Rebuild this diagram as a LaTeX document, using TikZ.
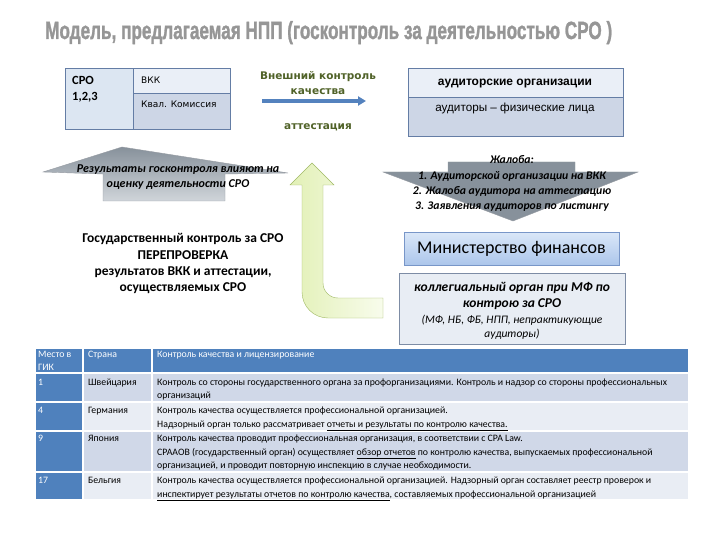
\documentclass[tikz,border=0pt]{standalone}
\usepackage{fontspec}
\setmainfont{Carlito}
\newfontfamily\lib{Liberation Sans}
\newfontfamily\titlefont{Liberation Sans Bold}[FakeBold=1.5]
\newfontfamily\dvs{DejaVu Sans}
\usetikzlibrary{arrows.meta}
\definecolor{titlegray}{RGB}{150,150,150}
\definecolor{bxborder}{RGB}{100,125,165}
\definecolor{bxa}{RGB}{220,230,242}
\definecolor{bxb}{RGB}{234,239,247}
\definecolor{bxc}{RGB}{205,214,230}
\definecolor{olivetxt}{RGB}{80,98,40}
\definecolor{arrblue}{RGB}{84,130,190}
\definecolor{calgray}{RGB}{135,145,155}
\definecolor{calcream}{RGB}{246,244,234}
\definecolor{callight}{RGB}{208,213,218}
\definecolor{calborder}{RGB}{150,155,162}
\definecolor{grnfill}{RGB}{226,240,182}
\definecolor{grnlight}{RGB}{248,252,236}
\definecolor{grnborder}{RGB}{160,185,100}
\definecolor{mftop}{RGB}{218,231,248}
\definecolor{mfbot}{RGB}{172,198,235}
\definecolor{mfborder}{RGB}{120,150,200}
\definecolor{kolfill}{RGB}{232,237,244}
\definecolor{kolborder}{RGB}{125,140,165}
\definecolor{thead}{RGB}{79,129,189}
\definecolor{trowa}{RGB}{208,216,232}
\definecolor{trowb}{RGB}{233,237,244}
\tikzset{
  txt/.style={anchor=base, inner sep=0pt},
  ltxt/.style={anchor=base west, inner sep=0pt},
  tabfont/.style={font=\fontsize{9.8}{11}\selectfont},
  tl/.style={ltxt, tabfont},
  th/.style={ltxt, tabfont, text=white},
  cellline/.style={draw=white, line width=1.2pt},
  olive/.style={txt, text=olivetxt, font=\dvs\bfseries\fontsize{10.5}{12}\selectfont},
  calltxt/.style={txt, font=\bfseries\itshape\fontsize{12}{14}\selectfont},
}
\begin{document}
\begin{tikzpicture}[x=1pt,y=-1pt]
\useasboundingbox (0,0) rectangle (720,540);
\fill[white] (0,0) rectangle (720,540);

% title
\node[ltxt, text=titlegray] (title) at (45,39)
  {\resizebox{567pt}{18pt}{\titlefont Модель, предлагаемая НПП (госконтроль за деятельностью СРО )}};

% SRO box
\path[fill=bxa, draw=bxborder] (65,68) rectangle (133,129);
\path[fill=bxb, draw=bxborder] (133,68) rectangle (230,93);
\path[fill=bxc, draw=bxborder] (133,93) rectangle (230,129);
\node[ltxt, font=\bfseries\fontsize{12.5}{14}\selectfont] (sro1) at (72,85) {СРО};
\node[ltxt, font=\bfseries\fontsize{12.5}{14}\selectfont] (sro2) at (72,101) {1,2,3};
\node[ltxt, font=\dvs\fontsize{9}{10}\selectfont] (vkk) at (141,84) {ВКК};
\node[ltxt, font=\dvs\fontsize{9}{10}\selectfont] (kval) at (141,108) {Квал. Комиссия};

% external control
\node[olive] (ext1) at (318,80) {Внешний контроль};
\node[olive] (ext2) at (318,95) {качества};
\node[olive] (att) at (318,130) {аттестация};
\coordinate (ba1) at (262,101);
\coordinate (ba2) at (366,101);
\draw[arrblue, line width=3.2pt, -{Triangle[length=8pt,width=9pt]}] (ba1) -- (ba2);

% auditors box
\path[fill=bxb, draw=bxborder] (408,68) rectangle (623,97);
\path[fill=bxc, draw=bxborder] (408,97) rectangle (623,136);
\node[txt, font=\lib\bfseries\fontsize{12}{13}\selectfont] (aorg) at (515,86) {аудиторские организации};
\node[txt, font=\lib\fontsize{11.7}{13}\selectfont] (afiz) at (515,112) {аудиторы – физические лица};

% left callout (up)
\shadedraw[draw=calborder, top color=calgray, middle color=calcream, bottom color=callight]
  (43,172) -- (122,147) -- (288,173) -- (225,174) -- (225,201) -- (103,201) -- (103,174) -- cycle;
\node[calltxt] (res1) at (178,173) {Результаты госконтроля влияют на};
\node[calltxt] (res2) at (178,188) {оценку деятельности СРО};

% right callout (down)
\shadedraw[draw=calborder, left color=calgray, middle color=calcream, right color=calgray]
  (448,162) -- (575,162) -- (575,172) -- (638,172) -- (513,221) -- (383,172) -- (448,172) -- cycle;
\node[calltxt, font=\bfseries\itshape\fontsize{11.7}{13}\selectfont] (zh0) at (512,164) {Жалоба:};
\node[calltxt, font=\bfseries\itshape\fontsize{11.7}{13}\selectfont] (zh1) at (512,180) {1. Аудиторской организации на ВКК};
\node[calltxt, font=\bfseries\itshape\fontsize{11.7}{13}\selectfont] (zh2) at (512,195) {2. Жалоба аудитора на аттестацию};
\node[calltxt, font=\bfseries\itshape\fontsize{11.7}{13}\selectfont] (zh3) at (512,210) {3. Заявления аудиторов по листингу};

% green arrow
\shadedraw[draw=grnborder, left color=grnfill, right color=grnlight]
  (312,163) -- (334,185) -- (323,185) -- (323,283)
  .. controls (323,291.3) and (329.7,298) .. (338,298) -- (383,298) -- (383,318) -- (328,318)
  .. controls (313.6,318) and (302,306.4) .. (302,292) -- (302,185) -- (290,185) -- cycle;

% state control text
\node[txt, font=\bfseries\fontsize{13.5}{15}\selectfont] (gk1) at (183,243) {Государственный контроль за СРО};
\node[txt, font=\bfseries\fontsize{13.5}{15}\selectfont] (gk2) at (183,259) {ПЕРЕПРОВЕРКА};
\node[txt, font=\bfseries\fontsize{13.5}{15}\selectfont] (gk3) at (183,275) {результатов ВКК и аттестации,};
\node[txt, font=\bfseries\fontsize{13.5}{15}\selectfont] (gk4) at (183,291) {осуществляемых СРО};

% Ministry
\shadedraw[draw=mfborder, top color=mftop, bottom color=mfbot] (404,232) rectangle (619,265);
\node[txt, font=\fontsize{18}{20}\selectfont] (mf) at (511.5,254) {Министерство финансов};

% collegial body
\path[fill=kolfill, draw=kolborder] (399,273) rectangle (625,344);
\node[txt, font=\bfseries\itshape\fontsize{13.5}{15}\selectfont] (kol1) at (512,291) {коллегиальный орган при МФ по};
\node[txt, font=\bfseries\itshape\fontsize{13.5}{15}\selectfont] (kol2) at (512,307) {контрою за СРО};
\node[txt, font=\itshape\fontsize{11.5}{13}\selectfont] (kol3) at (512,323) {(МФ, НБ, ФБ, НПП, непрактикующие};
\node[txt, font=\itshape\fontsize{11.5}{13}\selectfont] (kol4) at (512,337) {аудиторы)};

% table
\path[fill=thead, cellline] (35,348) rectangle (83,373);
\path[fill=thead, cellline] (83,348) rectangle (152,373);
\path[fill=thead, cellline] (152,348) rectangle (689,373);
\path[fill=thead, cellline] (35,373) rectangle (83,402);
\path[fill=trowa, cellline] (83,373) rectangle (152,402);
\path[fill=trowa, cellline] (152,373) rectangle (689,402);
\path[fill=thead, cellline] (35,402) rectangle (83,431);
\path[fill=trowb, cellline] (83,402) rectangle (152,431);
\path[fill=trowb, cellline] (152,402) rectangle (689,431);
\path[fill=thead, cellline] (35,431) rectangle (83,472);
\path[fill=trowa, cellline] (83,431) rectangle (152,472);
\path[fill=trowa, cellline] (152,431) rectangle (689,472);
\path[fill=thead, cellline] (35,472) rectangle (83,500);
\path[fill=trowb, cellline] (83,472) rectangle (152,500);
\path[fill=trowb, cellline] (152,472) rectangle (689,500);

\node[th] (h1a) at (38,357.5) {Место в};
\node[th] (h1b) at (38,370.5) {ГИК};
\node[th] (h2) at (88,357.5) {Страна};
\node[th] (h3) at (157,357.5) {Контроль качества и лицензирование};

\node[th] (r1a) at (38,385.5) {1};
\node[tl] (r1b) at (88,385.5) {Швейцария};
\node[tl] (r1c1) at (157,385.5) {Контроль со стороны государственного органа за профорганизациями. Контроль и надзор со стороны профессиональных};
\node[tl] (r1c2) at (157,398.5) {организаций};

\node[th] (r2a) at (38,413.5) {4};
\node[tl] (r2b) at (88,413.5) {Германия};
\node[tl] (r2c1) at (157,413.5) {Контроль качества осуществляется профессиональной организацией.};
\node[tl] (r2c2) at (157,427) {Надзорный орган только рассматривает \underline{отчеты и результаты по контролю качества.}};

\node[th] (r3a) at (38,441.5) {9};
\node[tl] (r3b) at (88,441.5) {Япония};
\node[tl] (r3c1) at (157,441.5) {Контроль качества проводит профессиональная организация, в соответствии с CPA Law.};
\node[tl] (r3c2) at (157,455) {CPAAOB (государственный орган) осуществляет \underline{обзор отчетов} по контролю качества, выпускаемых профессиональной};
\node[tl] (r3c3) at (157,468.5) {организацией, и проводит повторную инспекцию в случае необходимости.};

\node[th] (r4a) at (38,483.5) {17};
\node[tl] (r4b) at (88,483.5) {Бельгия};
\node[tl] (r4c1) at (157,483.5) {Контроль качества осуществляется профессиональной организацией. Надзорный орган составляет реестр проверок и};
\node[tl] (r4c2) at (157,497) {\underline{инспектирует результаты отчетов по контролю качества}, составляемых профессиональной организацией};
\end{tikzpicture}
\end{document}
